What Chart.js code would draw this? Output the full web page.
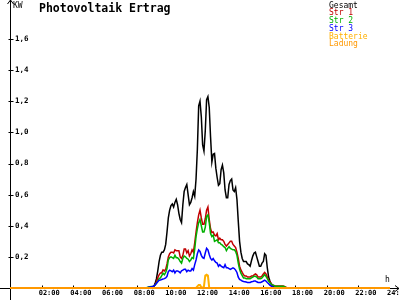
<!DOCTYPE html>
<html>
<head>
<meta charset="utf-8">
<script src="https://cdn.jsdelivr.net/npm/chart.js@4"></script>
<style>
  html, body { margin: 0; padding: 0; background: #fff; }
  canvas { display: block; }
</style>
</head>
<body>
<canvas id="pvChart" width="400" height="300"></canvas>
<script>
// Sample times (5 minute log), plus the day start and end
const times = ['00:00',
  '08:30','08:35','08:40','08:45','08:50','08:55',
  '09:00','09:05','09:10','09:15','09:20','09:25','09:30','09:35','09:40','09:45','09:50','09:55',
  '10:00','10:05','10:10','10:15','10:20','10:25','10:30','10:35','10:40','10:45','10:50','10:55',
  '11:00','11:05','11:10','11:15','11:20','11:25','11:30','11:35','11:40','11:45','11:50','11:55',
  '12:00','12:05','12:10','12:15','12:20','12:25','12:30','12:35','12:40','12:45','12:50','12:55',
  '13:00','13:05','13:10','13:15','13:20','13:25','13:30','13:35','13:40','13:45','13:50','13:55',
  '14:00','14:05','14:10','14:15','14:20','14:25','14:30','14:35','14:40','14:45','14:50','14:55',
  '15:00','15:05','15:10','15:15','15:20','15:25','15:30','15:35','15:40','15:45','15:50','15:55',
  '16:00','16:05','16:10','16:15','16:20','16:25','16:30','16:35','16:40','16:45','16:50','16:55',
  '17:00','17:05','17:10','17:15','17:20','17:25','17:30',
  '24:00'];

// kW values per series
const gesamt = [0,
  0, 0, 0, 0, 0, 0,
  0, 0.01, 0.03, 0.06, 0.11, 0.17, 0.21, 0.23, 0.23, 0.245, 0.28, 0.36,
  0.45, 0.50, 0.53, 0.54, 0.52, 0.55, 0.57, 0.535, 0.48, 0.44, 0.42, 0.535,
  0.62, 0.645, 0.665, 0.60, 0.535, 0.55, 0.58, 0.62, 0.59, 0.70, 0.89, 1.17,
  1.20, 1.10, 0.92, 0.88, 1.01, 1.21, 1.23, 1.16, 0.97, 0.81, 0.86, 0.865,
  0.77, 0.71, 0.66, 0.67, 0.76, 0.79, 0.74, 0.63, 0.58, 0.58, 0.665, 0.69,
  0.70, 0.63, 0.62, 0.645, 0.57, 0.43, 0.30, 0.23, 0.19, 0.17, 0.17, 0.17,
  0.155, 0.15, 0.14, 0.175, 0.205, 0.225, 0.23, 0.20, 0.17, 0.14, 0.14, 0.16,
  0.17, 0.22, 0.21, 0.13, 0.07, 0.045, 0.025, 0.013, 0.006, 0.005, 0.005, 0.005,
  0.005, 0.005, 0.005, 0, 0, 0, 0,
  0];

const str1 = [0,
  0, 0, 0, 0, 0, 0,
  0, 0.01, 0.02, 0.04, 0.065, 0.085, 0.097, 0.097, 0.116, 0.11, 0.12, 0.155,
  0.20, 0.22, 0.23, 0.23, 0.225, 0.245, 0.24, 0.24, 0.24, 0.20, 0.19, 0.21,
  0.25, 0.25, 0.225, 0.24, 0.205, 0.22, 0.245, 0.23, 0.29, 0.36, 0.42, 0.47,
  0.50, 0.45, 0.41, 0.41, 0.445, 0.50, 0.52, 0.44, 0.38, 0.355, 0.36, 0.34,
  0.335, 0.35, 0.31, 0.32, 0.31, 0.31, 0.30, 0.28, 0.27, 0.28, 0.29, 0.30,
  0.30, 0.28, 0.27, 0.26, 0.23, 0.19, 0.14, 0.116, 0.10, 0.085, 0.077, 0.077,
  0.07, 0.07, 0.07, 0.077, 0.077, 0.085, 0.09, 0.085, 0.07, 0.07, 0.07, 0.077,
  0.09, 0.10, 0.09, 0.07, 0.05, 0.04, 0.026, 0.02, 0.016, 0.013, 0.013, 0.013,
  0.013, 0.013, 0.013, 0.013, 0.01, 0.005, 0,
  0];

const str2 = [0,
  0, 0, 0.003, 0.006, 0.008, 0.01,
  0.01, 0.01, 0.02, 0.03, 0.045, 0.06, 0.065, 0.08, 0.095, 0.085, 0.10, 0.125,
  0.18, 0.195, 0.20, 0.195, 0.19, 0.21, 0.195, 0.195, 0.185, 0.17, 0.16, 0.19,
  0.205, 0.20, 0.19, 0.185, 0.17, 0.18, 0.195, 0.19, 0.25, 0.33, 0.38, 0.42,
  0.44, 0.40, 0.36, 0.36, 0.39, 0.46, 0.47, 0.42, 0.35, 0.33, 0.34, 0.30,
  0.305, 0.31, 0.29, 0.29, 0.28, 0.275, 0.265, 0.26, 0.24, 0.255, 0.265, 0.255,
  0.25, 0.245, 0.245, 0.235, 0.21, 0.16, 0.12, 0.095, 0.08, 0.065, 0.065, 0.06,
  0.06, 0.06, 0.06, 0.065, 0.07, 0.075, 0.075, 0.07, 0.06, 0.06, 0.06, 0.065,
  0.075, 0.085, 0.075, 0.06, 0.045, 0.033, 0.025, 0.02, 0.016, 0.012, 0.012, 0.012,
  0.012, 0.012, 0.012, 0.012, 0.008, 0.004, 0,
  0];

const str3 = [0,
  0, 0, 0, 0.005, 0.007, 0.008,
  0.01, 0.013, 0.02, 0.03, 0.04, 0.05, 0.052, 0.055, 0.058, 0.06, 0.065, 0.075,
  0.105, 0.115, 0.11, 0.105, 0.115, 0.097, 0.11, 0.11, 0.105, 0.097, 0.11, 0.115,
  0.12, 0.12, 0.105, 0.115, 0.11, 0.11, 0.125, 0.115, 0.15, 0.18, 0.22, 0.245,
  0.235, 0.21, 0.195, 0.19, 0.225, 0.255, 0.245, 0.215, 0.19, 0.18, 0.19, 0.175,
  0.165, 0.16, 0.14, 0.15, 0.14, 0.135, 0.13, 0.15, 0.13, 0.13, 0.125, 0.12,
  0.125, 0.13, 0.125, 0.115, 0.10, 0.07, 0.055, 0.05, 0.045, 0.042, 0.04, 0.038,
  0.036, 0.036, 0.036, 0.04, 0.042, 0.045, 0.045, 0.04, 0.036, 0.036, 0.036, 0.04,
  0.045, 0.05, 0.045, 0.035, 0.027, 0.018, 0.012, 0.008, 0.004, 0, 0, 0,
  0, 0, 0, 0, 0, 0, 0,
  0];

const batterie = [0,
  0, 0, 0, 0, 0, 0,
  0, 0, 0, 0, 0, 0, 0, 0, 0, 0, 0, 0,
  0, 0, 0, 0, 0, 0, 0, 0, 0, 0, 0, 0,
  0, 0, 0, 0, 0, 0, 0, 0, 0, 0, 0.01, 0.02,
  0.02, 0.005, 0, 0.01, 0.08, 0.085, 0.08, 0, 0, 0, 0, 0,
  0, 0, 0, 0, 0, 0, 0, 0, 0, 0, 0, 0,
  0, 0, 0, 0, 0, 0, 0, 0, 0, 0, 0, 0,
  0, 0, 0, 0, 0, 0, 0, 0, 0, 0, 0, 0,
  0, 0, 0, 0, 0, 0, 0, 0, 0, 0, 0, 0,
  0, 0, 0, 0, 0, 0, 0,
  0];

// Ladung stays at zero the whole day
const ladungTimes = ['00:00', '24:00'];
const ladung = [0, 0];

const xTickLabels = ['', '02:00', '04:00', '06:00', '08:00', '10:00', '12:00',
  '14:00', '16:00', '18:00', '20:00', '22:00', '24:00'];
const yTickLabels = ['', '0,2', '0,4', '0,6', '0,8', '1,0', '1,2', '1,4', '1,6'];

const seriesNames = ['Gesamt', 'Str 1', 'Str 2', 'Str 3', 'Batterie', 'Ladung'];
const seriesColors = ['#000000', '#c00000', '#00b000', '#0000ff', '#ffb000', '#ff9800'];

const MONO = '"DejaVu Sans Mono", monospace';

function toHours(t) {
    const [h, m] = t.split(':').map(Number);
    return h + m / 60;
}

function toPoints(tList, values) {
    return values.map((v, i) => ({ x: toHours(tList[i]), y: v }));
}

// Axis lines, arrows, tick marks and the free texts
const decorPlugin = {
    id: 'decor',
    beforeDatasetsDraw(chart) {
        const { ctx, chartArea, scales } = chart;
        const x0 = Math.round(chartArea.left) + 0.5;
        const y0 = Math.round(chartArea.bottom) + 0.5;
        ctx.save();
        ctx.strokeStyle = '#000';
        ctx.lineWidth = 1;
        ctx.beginPath();
        // y axis with arrow
        ctx.moveTo(x0, 0);
        ctx.lineTo(x0, 300);
        ctx.moveTo(x0 - 3, 4);
        ctx.lineTo(x0, 0);
        ctx.lineTo(x0 + 3, 4);
        // x axis with arrow
        ctx.moveTo(0, y0);
        ctx.lineTo(399, y0);
        ctx.moveTo(395, y0 - 3);
        ctx.lineTo(399, y0);
        ctx.lineTo(395, y0 + 3);
        // y tick marks
        scales.y.ticks.forEach(t => {
            if (t.value === 0) return;
            const py = Math.round(scales.y.getPixelForValue(t.value)) + 0.5;
            ctx.moveTo(x0 - 2, py);
            ctx.lineTo(x0 + 3, py);
        });
        // x tick marks
        scales.x.ticks.forEach(t => {
            if (t.value === 0 || t.value === 24) return;
            const px = Math.round(scales.x.getPixelForValue(t.value)) + 0.5;
            ctx.moveTo(px, y0 - 3);
            ctx.lineTo(px, y0);
        });
        ctx.stroke();

        ctx.fillStyle = '#000';
        ctx.textBaseline = 'alphabetic';
        ctx.textAlign = 'left';
        ctx.font = '8px ' + MONO;
        ctx.fillText('KW', 13, 8);
        ctx.fillText('h', 385, 282);
        ctx.font = 'bold 11.5px ' + MONO;
        ctx.fillText('Photovoltaik Ertrag', 39, 12);

        // legend: coloured names only
        ctx.font = '8px ' + MONO;
        seriesNames.forEach((name, i) => {
            ctx.fillStyle = seriesColors[i];
            ctx.fillText(name, 329, 7.5 + 7.75 * i);
        });
        ctx.restore();
    }
};

const datasets = [
    { label: seriesNames[0], data: toPoints(times, gesamt), order: 5 },
    { label: seriesNames[1], data: toPoints(times, str1), order: 4 },
    { label: seriesNames[2], data: toPoints(times, str2), order: 3 },
    { label: seriesNames[3], data: toPoints(times, str3), order: 2 },
    { label: seriesNames[4], data: toPoints(times, batterie), order: 1 },
    { label: seriesNames[5], data: toPoints(ladungTimes, ladung), order: 0 }
].map((d, i) => Object.assign(d, {
    borderColor: seriesColors[i],
    borderWidth: i >= 4 ? 2 : 1.5,
    pointRadius: 0,
    tension: 0,
    fill: false,
    clip: false
}));

new Chart(document.getElementById('pvChart'), {
    type: 'line',
    data: { datasets },
    options: {
        responsive: false,
        animation: false,
        devicePixelRatio: 1,
        layout: { padding: { left: 0, right: 10, top: 39, bottom: 0 } },
        plugins: {
            legend: { display: false },
            title: { display: false },
            tooltip: { enabled: false }
        },
        scales: {
            x: {
                type: 'linear',
                min: 0,
                max: 24,
                grid: { display: false, drawTicks: false },
                border: { display: false },
                afterFit: s => { s.height = 12; s.paddingLeft = 0; s.paddingRight = 0; },
                ticks: {
                    stepSize: 2,
                    autoSkip: false,
                    maxRotation: 0,
                    align: 'start',
                    labelOffset: -3,
                    padding: 1,
                    color: '#000',
                    font: { family: MONO, size: 7, weight: 'bold' },
                    callback: (value, index) => xTickLabels[index]
                }
            },
            y: {
                min: 0,
                max: 1.6,
                grid: { display: false, drawTicks: false },
                border: { display: false },
                afterFit: s => { s.width = 10; s.paddingTop = 0; s.paddingBottom = 0; },
                ticks: {
                    stepSize: 0.2,
                    mirror: true,
                    padding: 5,
                    color: '#000',
                    font: { family: MONO, size: 7.5, weight: 'bold' },
                    callback: (value, index) => yTickLabels[index]
                }
            }
        }
    },
    plugins: [decorPlugin]
});
</script>
</body>
</html>
